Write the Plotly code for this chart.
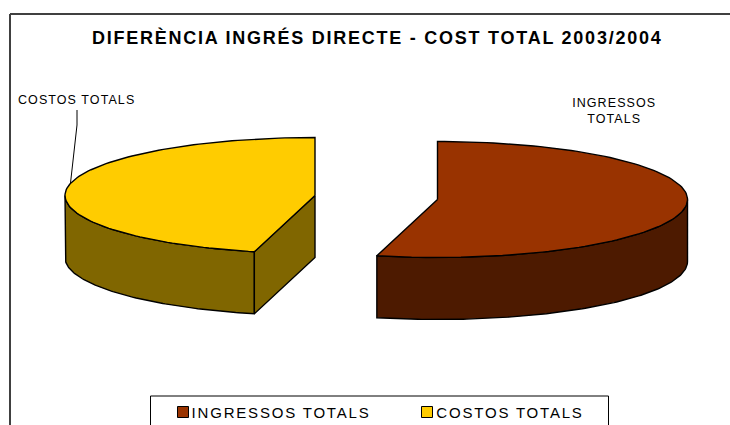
import math
import plotly.graph_objects as go

# Data (shares)
categories = ["INGRESSOS TOTALS", "COSTOS TOTALS"]
values = [53.9, 46.1]
top_colors = ["#993300", "#FFCC00"]
side_colors = ["#4D1A00", "#806600"]

# Pie geometry in page pixels
W, H = 730, 425
RX, RY, DEPTH = 250, 58, 62
CENTERS = [(437.5, 199.5), (315, 195.5)]

total = sum(values)
split = 360 * values[0] / total
SPANS = [(0, split), (split, 360)]


def pt(c, t, dz=0):
    r = math.radians(t)
    return c[0] + RX * math.sin(r), c[1] - RY * math.cos(r) + dz


def arc(c, a, b, dz=0, n=120):
    return [pt(c, a + (b - a) * i / n, dz) for i in range(n + 1)]


fig = go.Figure()


def poly(points, color, name):
    xs = [p[0] for p in points] + [points[0][0]]
    ys = [p[1] for p in points] + [points[0][1]]
    fig.add_trace(go.Scatter(x=xs, y=ys, mode="lines", fill="toself", fillcolor=color,
                             line=dict(color="#000000", width=1.4), showlegend=False,
                             name=name, hoverinfo="name"))


# Ingressos slice (0 -> split): outer wall then top
c = CENTERS[0]
a, b = SPANS[0]
poly(arc(c, 90, b) + arc(c, b, 90, DEPTH), side_colors[0], categories[0])
poly([c] + arc(c, a, b), top_colors[0], categories[0])

# Costos slice (split -> 360): wall, cut face, top
c = CENTERS[1]
a, b = SPANS[1]
poly(arc(c, a, 270) + arc(c, 270, a, DEPTH), side_colors[1], categories[1])
poly([c, pt(c, a), pt(c, a, DEPTH), (c[0], c[1] + DEPTH)], side_colors[1], categories[1])
poly([c] + arc(c, a, b), top_colors[1], categories[1])

# Leader line for the COSTOS TOTALS label
lx, ly = pt(c, 282)
fig.add_trace(go.Scatter(x=[77, 77, lx], y=[110, 125, ly], mode="lines",
                         line=dict(color="#000000", width=1), showlegend=False,
                         hoverinfo="skip"))

# Legend, placed by hand so it can run off the bottom of the page like the reference
SWATCH_X = [183, 427]
TEXT_X = [280.5, 509.5]
LEGEND_Y = 412
for name, col, sx in zip(categories, top_colors, SWATCH_X):
    fig.add_trace(go.Scatter(x=[sx], y=[LEGEND_Y], mode="markers", name=name,
                             showlegend=False, hoverinfo="name",
                             marker=dict(symbol="square", size=11, color=col,
                                         line=dict(color="#000000", width=1))))

LABEL = dict(family="Liberation Sans, Arial, sans-serif", color="#000000")
annotations = [
    dict(text="<b>DIFERÈNCIA INGRÉS DIRECTE - COST TOTAL 2003/2004</b>", x=376.5, y=37,
         xref="x", yref="y", showarrow=False, font=dict(size=18, **LABEL)),
    dict(text="COSTOS TOTALS", x=76.5, y=100, xref="x", yref="y", showarrow=False,
         font=dict(size=12.5, **LABEL)),
    dict(text="INGRESSOS<br>TOTALS", x=613.5, y=110.5, xref="x", yref="y", showarrow=False,
         font=dict(size=12.5, **LABEL)),
]
for name, tx in zip(categories, TEXT_X):
    annotations.append(dict(text=name, x=tx, y=LEGEND_Y + 0.5, xref="x", yref="y",
                            showarrow=False, font=dict(size=15, **LABEL)))

fig.update_layout(
    width=W, height=H,
    margin=dict(l=0, r=0, t=0, b=0),
    paper_bgcolor="#FFFFFF", plot_bgcolor="#FFFFFF",
    xaxis=dict(range=[0, W], visible=False, fixedrange=True),
    yaxis=dict(range=[H, 0], visible=False, fixedrange=True),
    showlegend=False,
    shapes=[
        dict(type="line", xref="x", yref="y", x0=10, x1=10, y0=14, y1=H,
             line=dict(color="#404040", width=2), layer="below"),
        dict(type="line", xref="x", yref="y", x0=10, x1=W, y0=14, y1=14,
             line=dict(color="#404040", width=2), layer="below"),
        dict(type="rect", xref="x", yref="y", x0=150.5, x1=608.5, y0=396, y1=H + 5,
             line=dict(color="#000000", width=1), fillcolor="#FFFFFF", layer="below"),
    ],
    annotations=annotations,
)

# The reference text is letter-spaced; also drop the browser's default page margin.
POST = """
document.documentElement.style.margin='0';
document.body.style.margin='0';
document.body.style.overflow='hidden';
function spaceText(){
  document.querySelectorAll('.annotation-text').forEach(function(t){
    var s=parseFloat(t.style.fontSize||'0');
    t.style.letterSpacing=(s>=18?'1.75px':(s>=15?'1.8px':'1.08px'));
  });
}
spaceText();setTimeout(spaceText,50);setTimeout(spaceText,300);
"""
fig.write_html("out.html", config={"displayModeBar": False}, post_script=POST)
